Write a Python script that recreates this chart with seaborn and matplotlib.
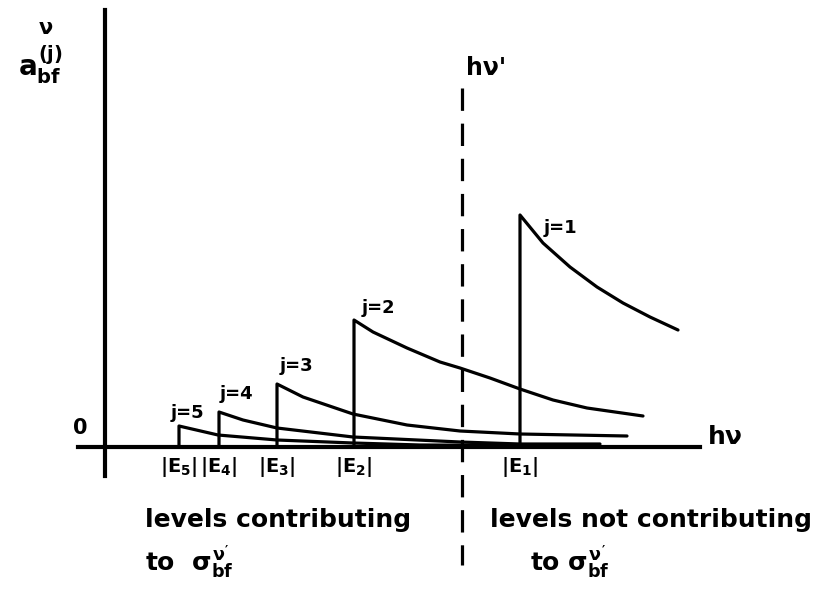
import pandas as pd
import matplotlib
matplotlib.use("Agg")
import matplotlib.pyplot as plt
import seaborn as sns

# photon energy h*nu (arbitrary units)
j1_x = [8.30, 8.30, 8.76, 9.30, 9.84, 10.36, 10.90, 11.46]
j1_y = [0.00, 4.64, 4.08, 3.60, 3.20, 2.88, 2.60, 2.34]
j2_x = [4.98, 4.98, 5.36, 6.04, 6.70, 7.10, 7.70, 8.30, 8.96, 9.64, 10.76]
j2_y = [0.00, 2.54, 2.30, 1.98, 1.70, 1.58, 1.38, 1.16, 0.94, 0.78, 0.62]
j3_x = [3.44, 3.44, 3.96, 4.96, 6.04, 7.10, 8.30, 10.44]
j3_y = [0.00, 1.26, 1.00, 0.66, 0.44, 0.32, 0.26, 0.22]
j4_x = [2.28, 2.28, 2.76, 3.44, 4.96, 7.10, 8.30, 9.90]
j4_y = [0.00, 0.70, 0.54, 0.38, 0.20, 0.10, 0.06, 0.06]
j5_x = [1.48, 1.48, 2.26, 3.44, 4.96, 6.30, 9.10]
j5_y = [0.00, 0.42, 0.24, 0.14, 0.08, 0.04, 0.03]

edges = [1.48, 2.28, 3.44, 4.98, 8.30]
edge_labels = [r"$|E_5|$", r"$|E_4|$", r"$|E_3|$", r"$|E_2|$", r"$|E_1|$"]
j_labels = ["j=5", "j=4", "j=3", "j=2", "j=1"]
j_label_pos = [(1.64, 0.68), (2.62, 1.06), (3.82, 1.62), (5.46, 2.78), (9.10, 4.38)]
h_nu_prime = 7.14

curves = [(j1_x, j1_y), (j2_x, j2_y), (j3_x, j3_y), (j4_x, j4_y), (j5_x, j5_y)]

sns.set_theme(style="white")
plt.rcParams["font.family"] = ["DejaVu Sans"]
plt.rcParams["text.color"] = "black"
plt.rcParams["xtick.color"] = "black"
plt.rcParams["mathtext.fontset"] = "custom"
plt.rcParams["mathtext.rm"] = "DejaVu Sans:bold"
plt.rcParams["mathtext.it"] = "DejaVu Sans:bold"
plt.rcParams["mathtext.bf"] = "DejaVu Sans:bold"

fig = plt.figure(figsize=(8.28, 5.89), dpi=100)
ax = fig.add_axes([0, 0, 1, 1])

for xs, ys in curves:
    df = pd.DataFrame({"hnu": xs, "a": ys})
    sns.lineplot(data=df, x="hnu", y="a", ax=ax, color="black", lw=2.3,
                 sort=False, estimator=None)

# cut-off energy h nu'
ax.plot([h_nu_prime, h_nu_prime], [7.18, -2.36], color="black", lw=2.3,
        ls=(0, (7, 4)))
ax.text(h_nu_prime + 0.08, 7.58, "hν'", fontsize=17, fontweight="bold",
        va="center", ha="left")

# axes through the origin, like the hand sketch
ax.set_xlim(-2.1, 14.46)
ax.set_ylim(-2.84, 8.94)
for side in ["top", "right"]:
    ax.spines[side].set_visible(False)
ax.spines["left"].set_position(("data", 0))
ax.spines["bottom"].set_position(("data", 0))
ax.spines["left"].set_bounds(-0.58, 8.74)
ax.spines["bottom"].set_bounds(-0.54, 11.9)
for side in ["left", "bottom"]:
    ax.spines[side].set_linewidth(3)
    ax.spines[side].set_color("black")

ax.set_xticks(edges)
ax.set_xticklabels(edge_labels, fontsize=14)
ax.tick_params(axis="x", length=0, pad=6)
ax.set_yticks([])
ax.set_xlabel("")
ax.set_ylabel("")

for lab, (tx, ty) in zip(j_labels, j_label_pos):
    ax.text(tx, ty, lab, fontsize=13, fontweight="bold", ha="center", va="center")

ax.text(-0.5, 0.38, "0", fontsize=15, fontweight="bold", ha="center", va="center")
ax.text(12.06, 0.2, "hν", fontsize=18, fontweight="bold", ha="left", va="center")
ax.text(-1.3, 7.64, r"$a^{(j)}_{bf}$", fontsize=20, ha="center", va="center")
ax.text(-1.18, 8.38, "ν", fontsize=15, fontweight="bold", ha="center", va="center")

ax.text(0.8, -1.46, "levels contributing", fontsize=18, fontweight="bold",
        ha="left", va="center")
ax.text(0.8, -2.3, r"to  $\sigma_{bf}^{\nu'}$", fontsize=18, fontweight="bold",
        ha="left", va="center")
ax.text(7.7, -1.46, "levels not contributing", fontsize=18, fontweight="bold",
        ha="left", va="center")
ax.text(8.5, -2.3, r"to $\sigma_{bf}^{\nu'}$", fontsize=18, fontweight="bold",
        ha="left", va="center")

fig.savefig("out.png", dpi=100, facecolor="white")
